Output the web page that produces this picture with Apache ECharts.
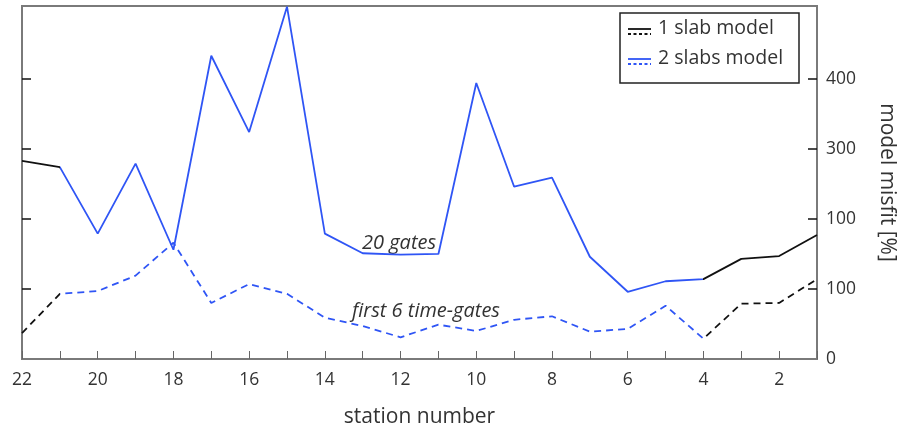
<!DOCTYPE html>
<html>
<head>
<meta charset="utf-8">
<title>model misfit per station</title>
<script src="https://cdn.jsdelivr.net/npm/echarts@6/dist/echarts.min.js"></script>
<style>
  html, body { margin: 0; padding: 0; background: #fff; }
  #chart { width: 907px; height: 434px; }
</style>
</head>
<body>
<div id="chart"></div>
<script>
// stations, read right-to-left as in the figure
var stations = [22, 21, 20, 19, 18, 17, 16, 15, 14, 13, 12, 11, 10, 9, 8, 7, 6, 5, 4, 3, 2, 1];

// misfit [%] using all 20 time-gates (solid line)
var misfit20Gates = [283, 274, 179, 279, 156, 433, 324, 503, 179, 151, 149, 150, 394, 246, 259, 146, 96, 111, 114, 143, 147, 177];

// misfit [%] using only the first 6 time-gates (dashed line)
var misfit6Gates = [37, 93, 97, 119, 166, 80, 107, 93, 59, 47, 31, 49, 40, 56, 61, 39, 43, 76, 29, 79, 80, 114];

// y tick values and the labels printed next to them (as in the original)
var yTickValues = [0, 100, 200, 300, 400];
var yTickLabels = ['0', '100', '100', '300', '400'];

var FONT = '"Open Sans", "Noto Sans", sans-serif';
var BLUE = '#2f55f5';
var BLACK = '#111';
var TEXT = '#333';

function pairs(values) {
    return stations.map(function (s, i) { return [s, values[i]]; });
}

var chart = echarts.init(document.getElementById('chart'));

chart.setOption({
    animation: false,
    grid: {
        left: 22, right: 90, top: 6, bottom: 75,
        show: true, borderColor: '#7a7a7a', borderWidth: 2
    },
    // 1 slab model on the outer stations, 2 slabs model in between
    visualMap: {
        show: false,
        type: 'piecewise',
        dimension: 0,
        seriesIndex: [0, 1],
        pieces: [
            { lte: 4, color: BLACK },
            { gt: 4, lt: 21, color: BLUE },
            { gte: 21, color: BLACK }
        ]
    },
    xAxis: {
        type: 'value',
        min: 1, max: 22, interval: 1,
        inverse: true,
        name: 'station number',
        nameLocation: 'middle',
        nameGap: 48,
        nameTextStyle: { fontFamily: FONT, fontSize: 21, color: TEXT },
        axisLine: { lineStyle: { color: '#7a7a7a', width: 2 } },
        axisTick: { inside: true, length: 8, lineStyle: { color: '#666', width: 1 } },
        axisLabel: {
            margin: 12,
            fontFamily: FONT, fontSize: 17.5, color: TEXT,
            formatter: function (v) { return v % 2 === 0 ? String(v) : ''; }
        },
        splitLine: { show: false }
    },
    yAxis: [{
        type: 'value',
        position: 'left',
        min: 0, max: 504,
        axisLine: { show: true, lineStyle: { color: '#7a7a7a', width: 2 } },
        axisTick: {
            show: true, inside: true, length: 9,
            customValues: yTickValues.slice(1),
            lineStyle: { color: '#111', width: 1.5 }
        },
        axisLabel: { show: false },
        splitLine: { show: false }
    }, {
        type: 'value',
        position: 'right',
        min: 0, max: 504,
        name: 'model misfit [%]',
        nameLocation: 'middle',
        nameRotate: -90,
        nameGap: 59,
        nameTextStyle: { fontFamily: FONT, fontSize: 21, color: TEXT },
        axisLine: { show: true, lineStyle: { color: '#7a7a7a', width: 2 } },
        axisTick: {
            show: true, inside: true, length: 9,
            customValues: yTickValues.slice(1),
            lineStyle: { color: '#111', width: 1.5 }
        },
        axisLabel: {
            margin: 9,
            fontFamily: FONT, fontSize: 17.5, color: TEXT,
            customValues: yTickValues,
            formatter: function (v) {
                var i = yTickValues.indexOf(v);
                return i >= 0 ? yTickLabels[i] : '';
            }
        },
        splitLine: { show: false }
    }],
    series: [{
        name: '20 gates',
        type: 'line',
        data: pairs(misfit20Gates),
        symbol: 'none',
        lineStyle: { width: 1.8 }
    }, {
        name: 'first 6 time-gates',
        type: 'line',
        data: pairs(misfit6Gates),
        symbol: 'none',
        lineStyle: { width: 1.8, type: [7, 5] }
    }],
    graphic: [
        // annotations
        { type: 'text', left: 362, top: 233,
          style: { text: '20 gates', font: 'italic 20px ' + FONT, fill: TEXT } },
        { type: 'text', left: 352, top: 301,
          style: { text: 'first 6 time-gates', font: 'italic 20px ' + FONT, fill: TEXT } },
        // legend box
        { type: 'rect', shape: { x: 620, y: 13, width: 179, height: 70 },
          style: { fill: '#fff', stroke: '#222', lineWidth: 1.5 } },
        { type: 'line', shape: { x1: 628, y1: 29, x2: 651, y2: 29 },
          style: { stroke: BLACK, lineWidth: 1.8 } },
        { type: 'line', shape: { x1: 628, y1: 34, x2: 651, y2: 34 },
          style: { stroke: BLACK, lineWidth: 1.8, lineDash: [3, 2.5] } },
        { type: 'text', left: 658, top: 18,
          style: { text: '1 slab model', font: '19.5px ' + FONT, fill: TEXT } },
        { type: 'line', shape: { x1: 628, y1: 59, x2: 651, y2: 59 },
          style: { stroke: BLUE, lineWidth: 1.8 } },
        { type: 'line', shape: { x1: 628, y1: 64, x2: 651, y2: 64 },
          style: { stroke: BLUE, lineWidth: 1.8, lineDash: [3, 2.5] } },
        { type: 'text', left: 658, top: 48,
          style: { text: '2 slabs model', font: '19.5px ' + FONT, fill: TEXT } }
    ]
});
</script>
</body>
</html>
